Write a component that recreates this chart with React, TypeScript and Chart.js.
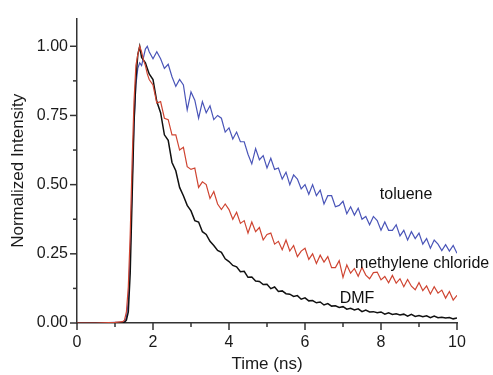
import React, { useEffect, useRef } from "react";
import { Chart, registerables } from "chart.js";

Chart.register(...registerables);

const times = [
  0, 0.5, 1.0, 1.2, 1.25, 1.3, 1.35, 1.4, 1.45, 1.5, 1.55, 1.6, 1.65, 1.7, 1.75, 1.8, 1.85,
  1.9, 2.0, 2.1, 2.2, 2.3, 2.4, 2.5, 2.6, 2.7, 2.8, 2.9, 3.0, 3.1, 3.2, 3.3, 3.4, 3.5, 3.6, 3.7, 3.8, 3.9,
  4.0, 4.1, 4.2, 4.3, 4.4, 4.5, 4.6, 4.7, 4.8, 4.9, 5.0, 5.1, 5.2, 5.3, 5.4, 5.5, 5.6, 5.7, 5.8, 5.9,
  6.0, 6.1, 6.2, 6.3, 6.4, 6.5, 6.6, 6.7, 6.8, 6.9, 7.0, 7.1, 7.2, 7.3, 7.4, 7.5, 7.6, 7.7, 7.8, 7.9,
  8.0, 8.1, 8.2, 8.3, 8.4, 8.5, 8.6, 8.7, 8.8, 8.9, 9.0, 9.1, 9.2, 9.3, 9.4, 9.5, 9.6, 9.7, 9.8, 9.9, 10.0,
];

const toluene = [
  0, 0, 0.002, 0.003, 0.005, 0.02, 0.08, 0.25, 0.5, 0.72, 0.86, 0.92, 0.94, 0.93, 0.96, 0.99, 1.0,
  0.98, 0.955, 0.98, 0.955, 0.92, 0.935, 0.89, 0.855, 0.88, 0.86, 0.77, 0.835, 0.805, 0.74, 0.8, 0.76, 0.785, 0.735, 0.75, 0.74, 0.69,
  0.705, 0.665, 0.69, 0.655, 0.655, 0.61, 0.575, 0.63, 0.59, 0.605, 0.56, 0.595, 0.555, 0.56, 0.52, 0.545, 0.5, 0.535, 0.52, 0.485,
  0.5, 0.465, 0.5, 0.46, 0.48, 0.43, 0.46, 0.46, 0.42, 0.425, 0.44, 0.395, 0.42, 0.39, 0.415, 0.375, 0.385, 0.355, 0.385, 0.37,
  0.335, 0.365, 0.335, 0.335, 0.355, 0.315, 0.335, 0.3, 0.33, 0.305, 0.325, 0.285, 0.305, 0.27, 0.3, 0.285, 0.262, 0.283, 0.26, 0.28, 0.252,
];

const methyleneChloride = [
  0, 0, 0.002, 0.005, 0.01, 0.04, 0.13, 0.32, 0.58, 0.8, 0.93, 0.97, 1.0, 0.98, 0.95, 0.93, 0.9,
  0.88, 0.86, 0.795, 0.8, 0.74, 0.735, 0.68, 0.68, 0.625, 0.635, 0.565, 0.555, 0.56, 0.49, 0.51, 0.5, 0.45, 0.475, 0.43, 0.41, 0.43,
  0.41, 0.375, 0.4, 0.36, 0.37, 0.325, 0.365, 0.33, 0.345, 0.3, 0.32, 0.325, 0.285, 0.295, 0.265, 0.3, 0.26, 0.28, 0.24, 0.26,
  0.27, 0.23, 0.25, 0.215, 0.245, 0.22, 0.24, 0.2, 0.2, 0.225, 0.165, 0.21, 0.18, 0.197, 0.169, 0.201, 0.173, 0.16, 0.182, 0.184,
  0.156, 0.168, 0.145, 0.172, 0.144, 0.16, 0.131, 0.157, 0.133, 0.12, 0.146, 0.117, 0.134, 0.105, 0.131, 0.108, 0.119, 0.09, 0.114, 0.083, 0.1,
];

const dmf = [
  0, 0, 0.001, 0.002, 0.003, 0.01, 0.04, 0.18, 0.45, 0.72, 0.88, 0.97, 1.0, 0.96, 0.95, 0.94, 0.92,
  0.9, 0.88, 0.8, 0.76, 0.68, 0.66, 0.58, 0.55, 0.49, 0.46, 0.425, 0.405, 0.37, 0.365, 0.33, 0.32, 0.295, 0.28, 0.262, 0.255, 0.232,
  0.222, 0.208, 0.203, 0.185, 0.187, 0.165, 0.166, 0.152, 0.15, 0.139, 0.14, 0.124, 0.13, 0.114, 0.116, 0.106, 0.104, 0.096, 0.099, 0.086,
  0.091, 0.08, 0.081, 0.073, 0.076, 0.065, 0.07, 0.061, 0.062, 0.056, 0.059, 0.05, 0.053, 0.047, 0.051, 0.041, 0.047, 0.04, 0.041, 0.037,
  0.04, 0.032, 0.037, 0.031, 0.033, 0.029, 0.032, 0.025, 0.031, 0.024, 0.027, 0.023, 0.026, 0.019, 0.025, 0.019, 0.021, 0.018, 0.02, 0.015, 0.018,
];

const xMajorTicks = [0, 2, 4, 6, 8, 10];
const yTickLabels = ["0.00", "0.25", "0.50", "0.75", "1.00"];

const seriesLabels = [
  { text: "toluene", x: 8.66, y: 0.463 },
  { text: "methylene chloride", x: 9.08, y: 0.214 },
  { text: "DMF", x: 7.37, y: 0.089 },
];

const FONT = "'Liberation Sans', Arial, sans-serif";

const tickPlugin = {
  id: "customTicks",
  afterDraw(chart: any) {
    const ctx = chart.ctx;
    const xs = chart.scales.x;
    const ys = chart.scales.y;
    const area = chart.chartArea;
    ctx.save();
    ctx.strokeStyle = "#333";
    ctx.lineWidth = 1.5;
    for (let v = 0; v <= 10; v += 1) {
      const px = xs.getPixelForValue(v);
      const len = v % 2 === 0 ? 7 : 4;
      ctx.beginPath();
      ctx.moveTo(px, area.bottom);
      ctx.lineTo(px, area.bottom + len);
      ctx.stroke();
    }
    for (let i = 0; i <= 8; i++) {
      const v = i * 0.125;
      const py = ys.getPixelForValue(v);
      const len = i % 2 === 0 ? 7 : 4;
      ctx.beginPath();
      ctx.moveTo(area.left, py);
      ctx.lineTo(area.left - len, py);
      ctx.stroke();
    }
    ctx.fillStyle = "#111";
    ctx.font = `16px ${FONT}`;
    ctx.textAlign = "center";
    ctx.textBaseline = "middle";
    for (const l of seriesLabels) {
      ctx.fillText(l.text, xs.getPixelForValue(l.x), ys.getPixelForValue(l.y));
    }
    ctx.restore();
  },
};

export default function App() {
  const ref = useRef<HTMLCanvasElement | null>(null);
  useEffect(() => {
    if (!ref.current) return;
    const mk = (vals: number[]) => times.map((t, i) => ({ x: t, y: vals[i] }));
    const chart = new Chart(ref.current, {
      type: "line",
      data: {
        datasets: [
          { label: "methylene chloride", data: mk(methyleneChloride), borderColor: "#cf4532", borderWidth: 1.2, pointRadius: 0, tension: 0 },
          { label: "DMF", data: mk(dmf), borderColor: "#111111", borderWidth: 1.5, pointRadius: 0, tension: 0 },
          { label: "toluene", data: mk(toluene), borderColor: "#4a55b8", borderWidth: 1.2, pointRadius: 0, tension: 0 },
        ],
      },
      options: {
        responsive: false,
        animation: false,
        layout: { padding: { top: 14, right: 36, bottom: 0, left: 0 } },
        plugins: { legend: { display: false }, tooltip: { enabled: false } },
        scales: {
          x: {
            type: "linear",
            min: 0,
            max: 10,
            grid: { display: false, drawTicks: false },
            border: { display: true, color: "#333", width: 1.5 },
            ticks: {
              stepSize: 2,
              padding: 10,
              color: "#1a1a1a",
              font: { family: FONT, size: 16 },
              maxRotation: 0,
              callback: (v: any) => (xMajorTicks.includes(Number(v)) ? String(v) : ""),
            },
            title: { display: true, text: "Time (ns)", color: "#1a1a1a", font: { family: FONT, size: 17 }, padding: { top: 0, bottom: 0 } },
            afterFit: (s: any) => { s.height = 52; },
          },
          y: {
            type: "linear",
            min: 0,
            max: 1.1,
            grid: { display: false, drawTicks: false },
            border: { display: true, color: "#333", width: 1.5 },
            ticks: {
              stepSize: 0.25,
              includeBounds: false,
              padding: 9,
              color: "#1a1a1a",
              font: { family: FONT, size: 16 },
              callback: (v: any) => {
                const idx = Math.round(Number(v) / 0.25);
                return Math.abs(Number(v) - idx * 0.25) < 1e-6 && idx < yTickLabels.length ? yTickLabels[idx] : "";
              },
            },
            title: { display: true, text: "Normalized Intensity", color: "#1a1a1a", font: { family: FONT, size: 17 }, padding: { top: 8, bottom: 0 } },
            afterFit: (s: any) => { s.width = 77; },
          },
        },
      },
      plugins: [tickPlugin],
    });
    return () => chart.destroy();
  }, []);
  return (
    <div style={{ position: "fixed", left: 0, top: 0, width: 493, height: 375, background: "#fff" }}>
      <canvas ref={ref} width={493} height={375} style={{ width: 493, height: 375 }} />
    </div>
  );
}
